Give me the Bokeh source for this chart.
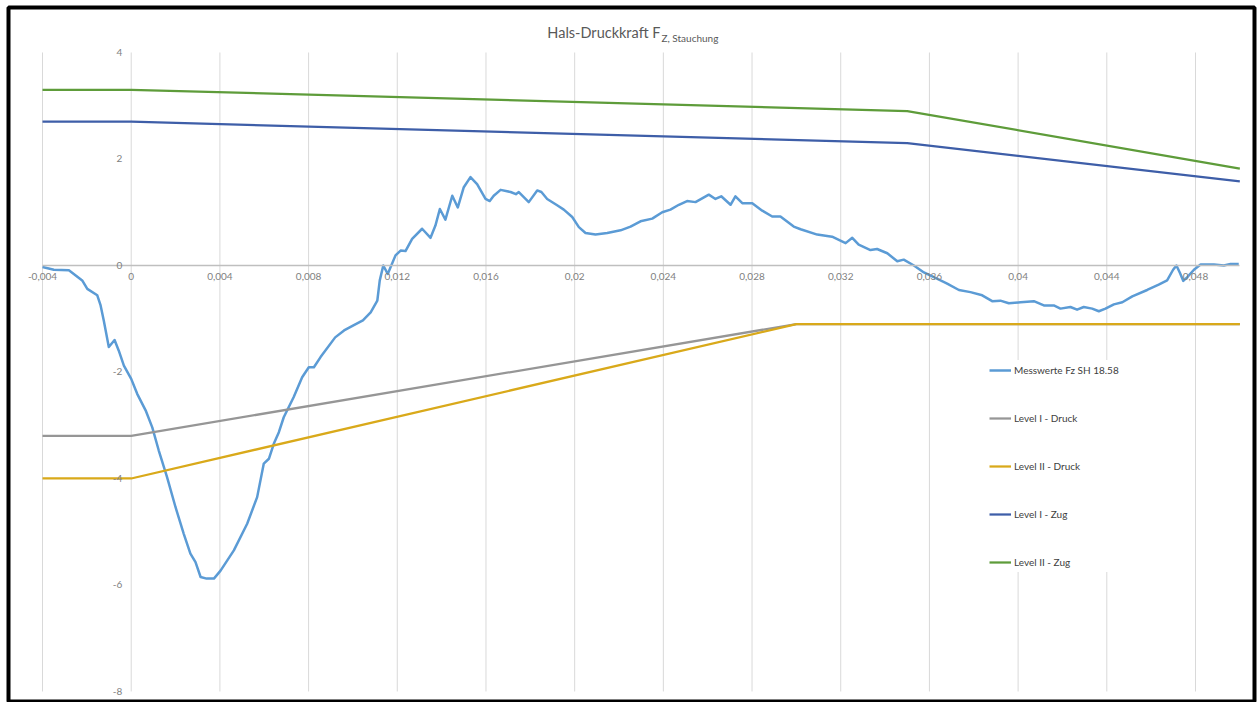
from bokeh.plotting import figure
from bokeh.models import (Range1d, FixedTicker, CustomJSTickFormatter, Legend,
                          LegendItem, Label)
from bokeh.embed import file_html
from bokeh.resources import INLINE

# ---------------- data ----------------
title_main = "Hals-Druckkraft F"
title_sub = "Z, Stauchung"

x_ticks = [-0.004, 0.0, 0.004, 0.008, 0.012, 0.016, 0.02, 0.024, 0.028,
           0.032, 0.036, 0.04, 0.044, 0.048]
x_labels = ["-0,004", "0", "0,004", "0,008", "0,012", "0,016", "0,02",
            "0,024", "0,028", "0,032", "0,036", "0,04", "0,044", "0,048"]
x_max = 0.050
y_ticks = [4, 2, 0, -2, -4, -6, -8]
y_labels = ["4", "2", "0", "-2", "-4", "-6", "-8"]

series_names = ["Messwerte Fz SH 18.58", "Level I - Druck", "Level II - Druck",
                "Level I - Zug", "Level II - Zug"]

mess_t = [
    -0.00400, -0.00349, -0.00281, -0.00259, -0.00221, -0.00198, -0.00153, -0.00138, -0.00124, -0.00101,
    -0.00075, -0.00056, -0.00033, 0.00000, 0.00027, 0.00065, 0.00095, 0.00124, 0.00162, 0.00200,
    0.00237, 0.00267, 0.00290, 0.00313, 0.00340, 0.00373, 0.00403, 0.00463, 0.00523, 0.00568,
    0.00598, 0.00621, 0.00643, 0.00666, 0.00688, 0.00733, 0.00771, 0.00801, 0.00824, 0.00854,
    0.00920, 0.00960, 0.01000, 0.01045, 0.01080, 0.01110, 0.01121, 0.01137, 0.01157, 0.01192,
    0.01215, 0.01237, 0.01267, 0.01312, 0.01350, 0.01372, 0.01392, 0.01417, 0.01448, 0.01473,
    0.01500, 0.01530, 0.01560, 0.01598, 0.01617, 0.01635, 0.01666, 0.01711, 0.01735, 0.01748,
    0.01793, 0.01831, 0.01850, 0.01876, 0.01921, 0.01951, 0.01989, 0.02019, 0.02049, 0.02094,
    0.02147, 0.02207, 0.02252, 0.02297, 0.02350, 0.02395, 0.02432, 0.02470, 0.02507, 0.02545,
    0.02605, 0.02635, 0.02661, 0.02703, 0.02725, 0.02756, 0.02801, 0.02846, 0.02891, 0.02928,
    0.02988, 0.03019, 0.03094, 0.03161, 0.03222, 0.03252, 0.03281, 0.03334, 0.03364, 0.03410,
    0.03455, 0.03484, 0.03530, 0.03575, 0.03620, 0.03680, 0.03733, 0.03785, 0.03838, 0.03883,
    0.03920, 0.03958, 0.04011, 0.04071, 0.04116, 0.04161, 0.04191, 0.04236, 0.04266, 0.04296,
    0.04334, 0.04364, 0.04394, 0.04432, 0.04470, 0.04515, 0.04582, 0.04634, 0.04672, 0.04699,
    0.04714, 0.04730, 0.04745, 0.04763, 0.04793, 0.04823, 0.04883, 0.04928, 0.04958, 0.04995,
]
mess_f = [
    -0.03, -0.08, -0.09, -0.16, -0.28, -0.44, -0.56, -0.75, -1.03, -1.53,
    -1.40, -1.60, -1.88, -2.13, -2.41, -2.72, -3.04, -3.47, -3.98, -4.54,
    -5.04, -5.41, -5.57, -5.85, -5.88, -5.88, -5.73, -5.35, -4.85, -4.35,
    -3.72, -3.63, -3.35, -3.13, -2.85, -2.47, -2.10, -1.91, -1.91, -1.72,
    -1.35, -1.22, -1.13, -1.03, -0.88, -0.66, -0.28, 0.00, -0.16, 0.19,
    0.28, 0.27, 0.50, 0.69, 0.52, 0.75, 1.06, 0.86, 1.31, 1.09,
    1.47, 1.66, 1.53, 1.25, 1.21, 1.31, 1.42, 1.38, 1.34, 1.38,
    1.19, 1.41, 1.38, 1.25, 1.13, 1.05, 0.91, 0.72, 0.61, 0.58,
    0.61, 0.66, 0.73, 0.83, 0.88, 1.00, 1.05, 1.14, 1.21, 1.19,
    1.33, 1.25, 1.30, 1.14, 1.30, 1.17, 1.17, 1.03, 0.92, 0.92,
    0.73, 0.68, 0.58, 0.54, 0.42, 0.52, 0.39, 0.29, 0.31, 0.23,
    0.08, 0.11, 0.00, -0.13, -0.22, -0.34, -0.46, -0.50, -0.56, -0.67,
    -0.66, -0.71, -0.69, -0.67, -0.75, -0.75, -0.81, -0.78, -0.83, -0.78,
    -0.81, -0.86, -0.81, -0.73, -0.69, -0.58, -0.46, -0.36, -0.28, -0.08,
    0.00, -0.14, -0.29, -0.22, -0.08, 0.02, 0.02, 0.00, 0.03, 0.03,
]
assert len(mess_t) == len(mess_f)

druck_t = [-0.004, 0.0, 0.030, 0.050]
level1_druck = [-3.2, -3.2, -1.1, -1.1]
level2_druck = [-4.0, -4.0, -1.1, -1.1]
zug_t = [-0.004, 0.0, 0.035, 0.050]
level1_zug = [2.7, 2.7, 2.3, 1.58]
level2_zug = [3.3, 3.3, 2.9, 1.82]

# ---------------- styles ----------------
FONT = "Lato"
colors = ["#5B9BD5", "#969696", "#D9A91A", "#3E5EA8", "#5E9C3A"]

p = figure(width=1259, height=702,
           x_range=Range1d(-0.005534, 0.050661),
           y_range=Range1d(-8.207, 4.845),
           output_backend="svg", toolbar_location=None, title=None,
           min_border_left=8, min_border_top=7, min_border_right=5,
           min_border_bottom=0)
p.background_fill_color = "white"
p.border_fill_color = "white"
p.outline_line_color = "black"
p.outline_line_width = 4
p.xgrid.visible = False
p.ygrid.visible = False

# vertical gridlines only, from tick list
n = len(x_ticks)
p.segment(x0=x_ticks, y0=[min(y_ticks)] * n, x1=x_ticks, y1=[max(y_ticks)] * n,
          line_color="#D9D9D9", line_width=1)

r_mess = p.line(mess_t, mess_f, line_color=colors[0], line_width=2.5, line_join="round")
r_l1d = p.line(druck_t, level1_druck, line_color=colors[1], line_width=2.25)
r_l2d = p.line(druck_t, level2_druck, line_color=colors[2], line_width=2.25)
r_l1z = p.line(zug_t, level1_zug, line_color=colors[3], line_width=2.25)
r_l2z = p.line(zug_t, level2_zug, line_color=colors[4], line_width=2.25)

fmt_code = """
const i = tv.findIndex(t => Math.abs(t - tick) < 1e-9);
return i < 0 ? "" : tl[i];
"""

xa = p.xaxis[0]
xa.fixed_location = 0
xa.ticker = FixedTicker(ticks=x_ticks)
xa.formatter = CustomJSTickFormatter(args=dict(tv=x_ticks, tl=x_labels), code=fmt_code)
xa.bounds = (x_ticks[0], x_max)
xa.axis_line_color = "#BFBFBF"
xa.axis_line_width = 1.5
xa.major_tick_line_color = None
xa.minor_tick_line_color = None
xa.major_tick_out = 0
xa.major_tick_in = 0
xa.major_label_standoff = 8
xa.major_label_text_font = FONT
xa.major_label_text_font_size = "10px"
xa.major_label_text_color = "#7F7F7F"

ya = p.yaxis[0]
ya.fixed_location = 0
ya.ticker = FixedTicker(ticks=y_ticks)
ya.formatter = CustomJSTickFormatter(args=dict(tv=y_ticks, tl=y_labels), code=fmt_code)
ya.axis_line_color = None
ya.major_tick_line_color = None
ya.minor_tick_line_color = None
ya.major_tick_out = 0
ya.major_tick_in = 0
ya.major_label_standoff = 9
ya.major_label_text_font = FONT
ya.major_label_text_font_size = "10px"
ya.major_label_text_color = "#7F7F7F"

legend = Legend(
    items=[LegendItem(label=nm, renderers=[r]) for nm, r in
           zip(series_names, [r_mess, r_l1d, r_l2d, r_l1z, r_l2z])],
    location=(981, 130), margin=0, padding=10, spacing=28,
    glyph_width=22, glyph_height=20, label_height=20, label_standoff=3,
    label_text_font=FONT, label_text_font_size="10px", label_text_color="#404040",
    border_line_color=None, background_fill_color="white", background_fill_alpha=1.0,
)
p.add_layout(legend)

title_x = 0.02387
p.add_layout(Label(x=title_x, y=4.37, text=title_main, text_align="right",
                   text_baseline="alphabetic", text_font=FONT,
                   text_font_size="14.5px", text_color="#595959"))
p.add_layout(Label(x=title_x, y=4.276, x_offset=1, text=title_sub, text_align="left",
                   text_baseline="alphabetic", text_font=FONT,
                   text_font_size="10px", text_color="#595959"))

open("out.html", "w").write(file_html(p, INLINE))
